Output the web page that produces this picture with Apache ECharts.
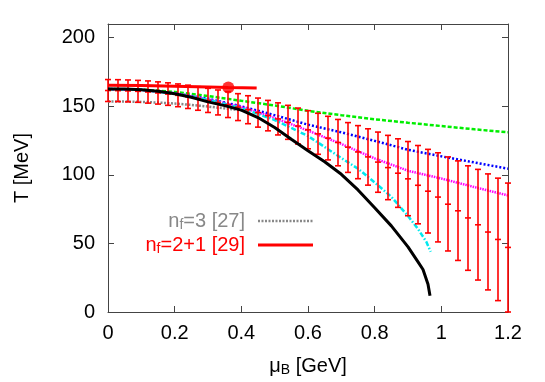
<!DOCTYPE html>
<html>
<head>
<meta charset="utf-8">
<script src="https://cdn.jsdelivr.net/npm/echarts@6/dist/echarts.min.js"></script>
<style>html,body{margin:0;padding:0;background:#fff}#c{width:545px;height:382px}</style>
</head>
<body>
<div id="c"></div>
<script>
// ---- data ----
const xTicks = [0, 0.2, 0.4, 0.6, 0.8, 1, 1.2];
const yTicks = [0, 50, 100, 150, 200];

// black solid curve [mu_B, T]
const blackCurve = [[0,162.6],[0.05,162.6],[0.1,162.1],[0.15,161.0],[0.2,159.2],[0.25,156.6],[0.3,153.2],[0.35,150.5],[0.4,147.2],[0.45,141.8],[0.5,134.5],[0.55,126.0],[0.6,117.6],[0.65,109.6],[0.7,100.4],[0.75,89.0],[0.8,76.0],[0.85,62.8],[0.9,47.5],[0.93,36.5],[0.945,31.0],[0.96,20.2],[0.966,11.9]];
// green dashed
const greenCurve = [[0,162.6],[0.1,162.2],[0.2,160.5],[0.3,157.5],[0.4,154.0],[0.5,150.6],[0.6,146.7],[0.7,143.5],[0.8,140.5],[0.9,138.0],[1.0,135.6],[1.1,133.2],[1.2,131.0]];
// blue dotted
const blueCurve = [[0,162.6],[0.1,162.0],[0.2,159.5],[0.3,155.5],[0.4,150.0],[0.5,143.5],[0.6,136.6],[0.7,131.0],[0.8,124.8],[0.9,118.3],[1.0,113.5],[1.1,109.0],[1.2,104.5]];
// magenta dotted
const magentaCurve = [[0,162.6],[0.1,162.0],[0.2,159.5],[0.3,155.0],[0.4,149.5],[0.5,141.5],[0.6,132.3],[0.7,122.5],[0.8,112.0],[0.9,103.0],[1.0,97.3],[1.1,91.0],[1.2,85.0]];
// cyan dash-dot
const cyanCurve = [[0,162.6],[0.1,162.0],[0.2,159.3],[0.3,154.8],[0.4,148.8],[0.5,140.0],[0.6,128.3],[0.65,120.3],[0.7,112.3],[0.75,104.5],[0.8,94.5],[0.85,84.0],[0.9,70.0],[0.93,60.5],[0.955,51.2],[0.968,44.0]];
// gray dotted: n_f=3 [27]
const nf3Curve = [[0,153.5],[0.05,153.5],[0.1,153.2],[0.15,152.7],[0.2,152.0],[0.25,151.0],[0.3,149.8],[0.35,148.5],[0.4,147.0]];
// red solid: n_f=2+1 [29]
const nf21Curve = [[0,165.4],[0.1,165.1],[0.2,164.7],[0.3,164.1],[0.361,163.7],[0.446,163.3]];
const nf21Point = [[0.361,163.7]];

// red error bars
const errMu = [0,0.03,0.06,0.09,0.12,0.15,0.18,0.21,0.24,0.27,0.3,0.33,0.36,0.39,0.42,0.45,0.48,0.51,0.54,0.57,0.6,0.63,0.66,0.69,0.72,0.75,0.78,0.81,0.84,0.87,0.9,0.93,0.96,0.99,1.02,1.05,1.08,1.11,1.14,1.17,1.2];
const errCenter = [161.5,161.4,161.2,160.9,160.4,159.7,158.9,158.0,156.9,155.7,154.3,152.8,151.2,149.4,147.5,145.4,143.2,140.8,138.3,135.6,132.8,129.9,126.8,123.6,120.2,116.7,113.1,109.3,105.3,101.2,97.1,92.4,88.1,83.8,78.6,73.8,68.6,63.6,58.3,52.9,47.1];
const errLow = [153.5,153.4,153.2,152.9,152.3,151.6,150.7,149.7,148.4,147.1,145.5,143.7,141.8,139.6,137.3,134.8,132.1,129.1,125.9,122.5,119.0,115.0,110.9,106.6,101.8,97.2,92.5,87.3,81.9,76.3,70.2,64.3,57.6,51.1,44.5,37.6,30.4,23.3,16.1,8.3,0];
const errHigh = [169.5,169.4,169.2,168.9,168.5,167.8,167.1,166.3,165.4,164.3,163.1,161.9,160.6,159.2,157.7,156.0,154.3,152.5,150.7,148.7,146.8,144.9,142.7,140.4,138.1,135.9,133.6,131.2,128.8,126.3,124.3,121.4,118.6,116.1,113.1,110.2,106.6,104.0,100.7,97.6,94.0];

const legendLabels = ['{n|n}{s|f}{n|=3 [27]}', '{n|n}{s|f}{n|=2+1 [29]}'];

// ---- chart ----
const FONT = 'Liberation Sans, Arial, Helvetica, sans-serif';
const FS = 20;
const frame = '#444';
const errData = errMu.map((m, i) => [m, errLow[i], errHigh[i], errCenter[i]]);

function axisBase(pos, show) {
  return {
    type: 'value', position: pos,
    axisLine: { show: true, onZero: false, lineStyle: { color: frame, width: 1 } },
    axisTick: { show: true, inside: true, length: 6, lineStyle: { color: frame, width: 1 } },
    splitLine: { show: false },
    axisLabel: { show: show, color: '#000', fontFamily: FONT, fontSize: FS }
  };
}

const chart = echarts.init(document.getElementById('c'), null, { renderer: 'canvas' });
const option = {
  animation: false,
  backgroundColor: '#fff',
  grid: { left: 108, right: 37, top: 24, bottom: 64, containLabel: false },
  xAxis: [
    Object.assign(axisBase('bottom', true), {
      min: xTicks[0], max: xTicks[xTicks.length - 1], interval: 0.2,
      name: '{a|μ}{b|B}{a| [GeV]}', nameLocation: 'middle', nameGap: 43,
      nameTextStyle: { rich: {
        a: { fontFamily: FONT, fontSize: FS, color: '#000', lineHeight: 22 },
        b: { fontFamily: FONT, fontSize: 14, color: '#000', lineHeight: 12, verticalAlign: 'bottom' }
      } },
      axisLabel: { show: true, color: '#000', fontFamily: FONT, fontSize: FS, margin: 11,
        formatter: v => String(Math.round(v * 10) / 10) }
    }),
    Object.assign(axisBase('top', false), { min: xTicks[0], max: xTicks[xTicks.length - 1], interval: 0.2 })
  ],
  yAxis: [
    Object.assign(axisBase('left', true), {
      min: 0, max: 210, interval: 50,
      name: 'T [MeV]', nameLocation: 'middle', nameGap: 76,
      nameTextStyle: { fontFamily: FONT, fontSize: FS, color: '#000' },
      axisLabel: { show: true, color: '#000', fontFamily: FONT, fontSize: FS, margin: 13,
        formatter: v => (yTicks.indexOf(v) >= 0 ? String(v) : '') }
    }),
    Object.assign(axisBase('right', false), { min: 0, max: 210, interval: 50 })
  ],
  series: [
    { type: 'line', data: greenCurve, symbol: 'none', z: 2,
      lineStyle: { color: '#00ee00', width: 2.5, type: [4, 2] } },
    { type: 'line', data: blueCurve, symbol: 'none', z: 2,
      lineStyle: { color: '#0000ff', width: 2.5, type: [2, 2] } },
    { type: 'line', data: magentaCurve, symbol: 'none', z: 2,
      lineStyle: { color: '#ff00ff', width: 2.5, type: [1.5, 1] } },
    { type: 'line', data: cyanCurve, symbol: 'none', z: 2,
      lineStyle: { color: '#00e8ee', width: 2.5, type: [5, 2, 1.5, 2] } },
    { type: 'line', data: nf3Curve, symbol: 'none', z: 2,
      lineStyle: { color: '#888888', width: 2.5, type: [2, 1.5] } },
    { type: 'custom', data: errData, z: 3,
      encode: { x: 0, y: [1, 2] },
      renderItem: function (params, api) {
        const x = api.value(0);
        const lo = api.coord([x, api.value(1)]);
        const hi = api.coord([x, api.value(2)]);
        const c = api.coord([x, api.value(3)]);
        const st = { stroke: '#ff0000', lineWidth: 1.6 };
        const w = 3;
        return { type: 'group', children: [
          { type: 'line', shape: { x1: lo[0], y1: lo[1], x2: hi[0], y2: hi[1] }, style: st },
          { type: 'line', shape: { x1: lo[0] - w, y1: lo[1], x2: lo[0] + w, y2: lo[1] }, style: st },
          { type: 'line', shape: { x1: hi[0] - w, y1: hi[1], x2: hi[0] + w, y2: hi[1] }, style: st },
          { type: 'line', shape: { x1: c[0] - w, y1: c[1], x2: c[0] + w, y2: c[1] }, style: st }
        ] };
      } },
    { type: 'line', data: blackCurve, symbol: 'none', z: 4,
      lineStyle: { color: '#000', width: 3 } },
    { type: 'line', data: nf21Curve, symbol: 'none', z: 5,
      lineStyle: { color: '#ff0000', width: 3 } },
    { type: 'scatter', data: nf21Point, symbol: 'circle', symbolSize: 12, z: 6,
      itemStyle: { color: '#ff0000' } }
  ],
  graphic: [
    { type: 'text', x: 245, y: 221, z: 10,
      style: { text: legendLabels[0], align: 'right', verticalAlign: 'middle',
        rich: {
          n: { fontFamily: FONT, fontSize: FS, fill: '#888888', lineHeight: 22 },
          s: { fontFamily: FONT, fontSize: 14, fill: '#888888', lineHeight: 12, verticalAlign: 'bottom' }
        } } },
    { type: 'line', x: 0, y: 0, z: 10, shape: { x1: 258, y1: 221, x2: 313, y2: 221 },
      style: { stroke: '#888888', lineWidth: 2.5, lineDash: [2, 1.5] } },
    { type: 'text', x: 245, y: 245, z: 10,
      style: { text: legendLabels[1], align: 'right', verticalAlign: 'middle',
        rich: {
          n: { fontFamily: FONT, fontSize: FS, fill: '#ff0000', lineHeight: 22 },
          s: { fontFamily: FONT, fontSize: 14, fill: '#ff0000', lineHeight: 12, verticalAlign: 'bottom' }
        } } },
    { type: 'line', x: 0, y: 0, z: 10, shape: { x1: 258, y1: 245, x2: 313, y2: 245 },
      style: { stroke: '#ff0000', lineWidth: 3 } }
  ]
};
chart.setOption(option);
</script>
</body>
</html>
